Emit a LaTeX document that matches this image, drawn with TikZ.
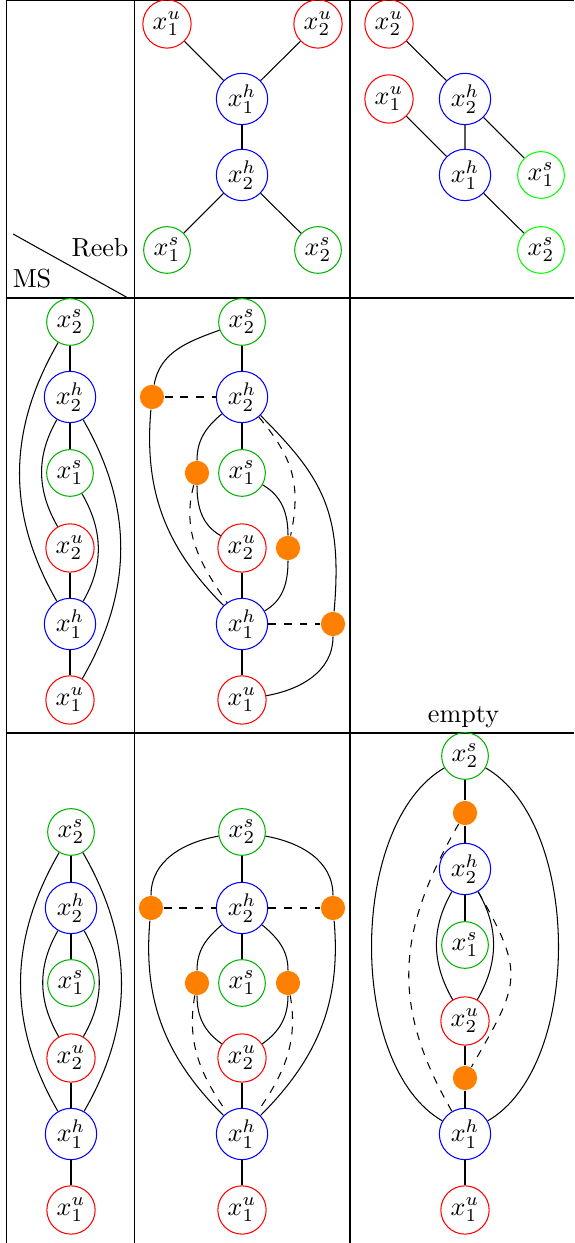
\documentclass[tikz,border=0pt]{standalone}
\usepackage{amsmath}
\usepackage{tikz}

\begin{document}
\begin{tikzpicture}[x=0.383pt,y=0.383pt,
un/.style={draw=red},
hn/.style={draw=blue},
sn/.style={draw=green!70!black},
sb/.style={draw=green},
dot/.style={fill=orange,inner sep=0pt,minimum size=9.3pt}]
\tikzstyle{every node}=[circle,inner sep=1.5pt]
\useasboundingbox (0,0) rectangle (574,1243);

\draw (6.5,0) -- (6.5,1242.5) -- (574,1242.5);
\draw (134.5,0) -- (134.5,1242.5);
\draw (350,0) -- (350,1242.5);
\draw (6.5,945) -- (574,945);
\draw (6.5,510) -- (574,510);
\draw (13,1009) -- (128,945);
\node (reeb) at (100,995) {Reeb};
\node (ms) at (32,964) {MS};
\node (empty) at (463.5,525.5) {empty};

\node[un] (p1u) at (167,1219) {$x_1^u$};
\node[un] (p2u) at (318,1219) {$x_2^u$};
\node[hn] (p1h) at (242,1144) {$x_1^h$};
\node[hn] (p2h) at (242,1068) {$x_2^h$};
\node[sn] (p1s) at (167,993) {$x_1^s$};
\node[sn] (p2s) at (318,993) {$x_2^s$};
\draw (p1u) -- (p1h) -- (p2u);
\draw (p1h) -- (p2h);
\draw (p1s) -- (p2h) -- (p2s);

\node[un] (q2u) at (389,1219) {$x_2^u$};
\node[un] (q1u) at (389,1144) {$x_1^u$};
\node[hn] (q2h) at (465,1144) {$x_2^h$};
\node[hn] (q1h) at (465,1068) {$x_1^h$};
\node[sb] (q1s) at (541,1068) {$x_1^s$};
\node[sb] (q2s) at (541,993) {$x_2^s$};
\draw (q2u) -- (q2h) -- (q1h) -- (q1u);
\draw (q2h) -- (q1s);
\draw (q1h) -- (q2s);

\node[sn] (a2s) at (70,921) {$x_2^s$};
\node[hn] (a2h) at (70,846) {$x_2^h$};
\node[sn] (a1s) at (70,770) {$x_1^s$};
\node[un] (a2u) at (70,695) {$x_2^u$};
\node[hn] (a1h) at (70,619) {$x_1^h$};
\node[un] (a1u) at (70,543) {$x_1^u$};
\draw (a2s) -- (a2h) -- (a1s);
\draw (a2u) -- (a1h) -- (a1u);
\draw (a2s) to[out=240,in=120] (a1h);
\draw (a2h) to[out=240,in=120] (a2u);
\draw (a1s) to[out=300,in=60] (a1h);
\draw (a2h) to[out=300,in=60] (a1u);

\node[sn] (b2s) at (242,921) {$x_2^s$};
\node[hn] (b2h) at (242,846) {$x_2^h$};
\node[sn] (b1s) at (242,770) {$x_1^s$};
\node[un] (b2u) at (242,695) {$x_2^u$};
\node[hn] (b1h) at (242,619) {$x_1^h$};
\node[un] (b1u) at (242,543) {$x_1^u$};
\node[dot] (bA) at (152,846) {};
\node[dot] (bB) at (197,770) {};
\node[dot] (bC) at (288,695) {};
\node[dot] (bD) at (333,619) {};
\draw (b2s) -- (b2h) -- (b1s);
\draw (b2u) -- (b1h) -- (b1u);
\draw[dashed] (bA) -- (b2h);
\draw[dashed] (b1h) -- (bD);
\draw (b2s) to[out=200,in=80] (bA);
\draw (bA) to[out=265,in=135] (b1h);
\draw (b2h) to[out=220,in=90] (bB);
\draw (bB) to[out=270,in=150] (b2u);
\draw[dashed] (bB) to[out=255,in=125] (b1h);
\draw (b1s) to[out=330,in=90] (bC);
\draw (bC) to[out=270,in=30] (b1h);
\draw[dashed] (b2h) to[out=310,in=78,looseness=1.1] (bC);
\draw (b2h) to[out=315,in=85,out looseness=1.08,in looseness=1.22] (bD);
\draw (bD) to[out=270,in=10] (b1u);

\node[sn] (c2s) at (71,411) {$x_2^s$};
\node[hn] (c2h) at (71,335) {$x_2^h$};
\node[sn] (c1s) at (71,260) {$x_1^s$};
\node[un] (c2u) at (71,185) {$x_2^u$};
\node[hn] (c1h) at (71,109) {$x_1^h$};
\node[un] (c1u) at (71,33) {$x_1^u$};
\draw (c2s) -- (c2h) -- (c1s);
\draw (c2u) -- (c1h) -- (c1u);
\draw (c2s) to[out=240,in=120] (c1h);
\draw (c2s) to[out=300,in=60] (c1h);
\draw (c2h) to[out=240,in=120] (c2u);
\draw (c2h) to[out=300,in=60] (c2u);

\node[sn] (d2s) at (242,411) {$x_2^s$};
\node[hn] (d2h) at (242,335) {$x_2^h$};
\node[sn] (d1s) at (242,260) {$x_1^s$};
\node[un] (d2u) at (242,185) {$x_2^u$};
\node[hn] (d1h) at (242,109) {$x_1^h$};
\node[un] (d1u) at (242,33) {$x_1^u$};
\node[dot] (dA) at (151,335) {};
\node[dot] (dE) at (333,335) {};
\node[dot] (dB) at (197,260) {};
\node[dot] (dC) at (288,260) {};
\draw (d2s) -- (d2h) -- (d1s);
\draw (d2u) -- (d1h) -- (d1u);
\draw[dashed] (dA) -- (d2h) -- (dE);
\draw (d2s) to[out=190,in=90] (dA);
\draw (d2s) to[out=350,in=90] (dE);
\draw (dA) to[out=265,in=135] (d1h);
\draw (dE) to[out=275,in=45] (d1h);
\draw (d2h) to[out=220,in=90] (dB);
\draw (d2h) to[out=320,in=90] (dC);
\draw (dB) to[out=270,in=145] (d2u);
\draw (dC) to[out=270,in=35] (d2u);
\draw[dashed] (dB) to[out=260,in=125] (d1h);
\draw[dashed] (dC) to[out=280,in=55] (d1h);

\node[sn] (e2s) at (465,487) {$x_2^s$};
\node[dot] (eF) at (465,430) {};
\node[hn] (e2h) at (465,374) {$x_2^h$};
\node[sn] (e1s) at (465,298) {$x_1^s$};
\node[un] (e2u) at (465,222) {$x_2^u$};
\node[dot] (eG) at (465,165) {};
\node[hn] (e1h) at (465,109) {$x_1^h$};
\node[un] (e1u) at (465,33) {$x_1^u$};
\draw (e2s) -- (eF) -- (e2h) -- (e1s);
\draw (e2u) -- (eG) -- (e1h) -- (e1u);
\draw (e2s) to[out=210,in=150,looseness=0.8] (e1h);
\draw (e2s) to[out=330,in=30,looseness=0.8] (e1h);
\draw[dashed] (eF) to[out=240,in=120,looseness=1.1] (e1h);
\draw[dashed] (e2h) to[out=300,in=60,looseness=1.4] (eG);
\draw (e2h) to[out=240,in=120] (e2u);
\draw (e2h) to[out=300,in=60] (e2u);
\end{tikzpicture}
\end{document}
